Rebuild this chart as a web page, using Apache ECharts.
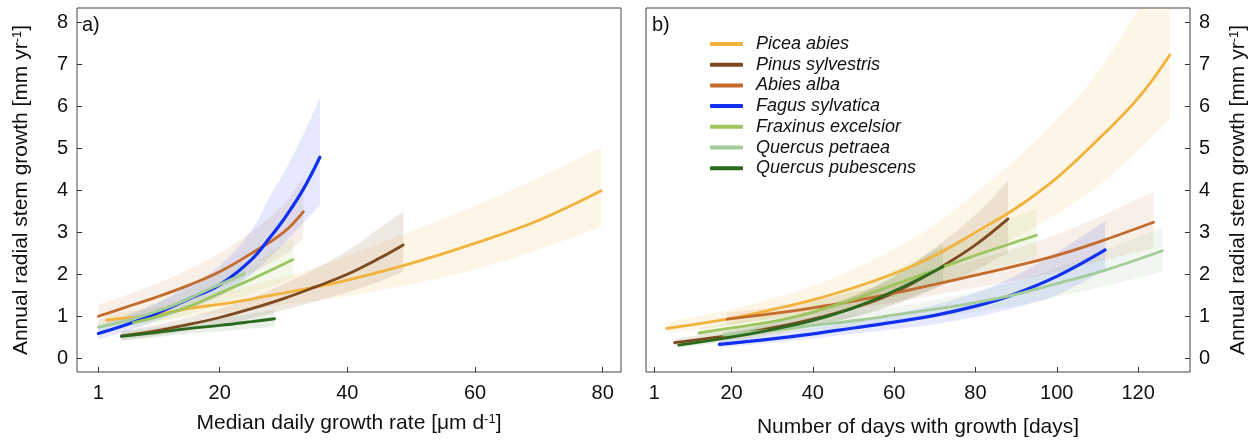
<!DOCTYPE html>
<html>
<head>
<meta charset="utf-8">
<title>Annual radial stem growth</title>
<script src="https://cdn.jsdelivr.net/npm/echarts@6/dist/echarts.min.js"></script>
<style>
  html, body { margin: 0; padding: 0; background: #fff; }
  #chart { width: 1258px; height: 443px; }
</style>
</head>
<body>
<div id="chart"></div>
<script>
// species, in legend order
var species = ['Picea abies', 'Pinus sylvestris', 'Abies alba', 'Fagus sylvatica',
  'Fraxinus excelsior', 'Quercus petraea', 'Quercus pubescens']

// tick labels
var rateTicks = [1, 20, 40, 60, 80]
var daysTicks = [1, 20, 40, 60, 80, 100, 120]
var growthTicks = [0, 1, 2, 3, 4, 5, 6, 7, 8]

// a) growth vs median daily growth rate: x, fitted growth, band low, band high
var piceaRateX = [2.3, 10, 15.3, 20, 25, 30.9, 37.7, 48.6, 59.6, 70, 79.75]
var piceaRateY = [0.91, 1.04, 1.19, 1.28, 1.41, 1.58, 1.78, 2.2, 2.72, 3.29, 3.99]
var piceaRateLo = [0.78, 0.88, 1.0, 1.07, 1.16, 1.3, 1.42, 1.72, 2.1, 2.6, 3.13]
var piceaRateHi = [1.05, 1.22, 1.42, 1.55, 1.74, 1.98, 2.3, 2.95, 3.6, 4.3, 5.04]

var pinusRateX = [4.6, 10, 15, 20, 25, 30, 35, 40, 45, 48.75]
var pinusRateY = [0.53, 0.65, 0.8, 0.97, 1.18, 1.42, 1.7, 2.0, 2.38, 2.7]
var pinusRateLo = [0.43, 0.53, 0.65, 0.79, 0.96, 1.14, 1.35, 1.57, 1.83, 2.06]
var pinusRateHi = [0.65, 0.79, 0.97, 1.18, 1.44, 1.76, 2.13, 2.56, 3.1, 3.5]

var abiesRateX = [1, 5, 10, 15, 20, 25, 30, 33.1]
var abiesRateY = [1.0, 1.2, 1.45, 1.73, 2.06, 2.5, 3.0, 3.49]
var abiesRateLo = [0.75, 0.93, 1.15, 1.4, 1.68, 2.03, 2.45, 2.86]
var abiesRateHi = [1.27, 1.48, 1.76, 2.1, 2.5, 3.02, 3.66, 4.3]

var fagusRateX = [1, 5, 10, 15, 20, 25, 28, 30, 33, 35.7]
var fagusRateY = [0.59, 0.78, 1.06, 1.4, 1.75, 2.35, 2.9, 3.3, 4.0, 4.79]
var fagusRateLo = [0.45, 0.63, 0.88, 1.17, 1.48, 2.0, 2.42, 2.72, 3.2, 3.65]
var fagusRateHi = [0.76, 0.98, 1.3, 1.72, 2.2, 3.05, 3.9, 4.4, 5.3, 6.2]

var fraxinusRateX = [6.5, 10, 15, 20, 25, 31.5]
var fraxinusRateY = [0.85, 0.98, 1.22, 1.55, 1.88, 2.35]
var fraxinusRateLo = [0.72, 0.83, 1.03, 1.3, 1.55, 1.9]
var fraxinusRateHi = [1.0, 1.15, 1.43, 1.83, 2.25, 2.88]

var petraeaRateX = [1, 6, 12.7, 18, 23.9]
var petraeaRateY = [0.74, 0.92, 1.26, 1.62, 2.02]
var petraeaRateLo = [0.6, 0.77, 1.06, 1.38, 1.74]
var petraeaRateHi = [0.9, 1.08, 1.47, 1.88, 2.32]

var pubescensRateX = [4.6, 10, 15.3, 20, 25, 28.6]
var pubescensRateY = [0.52, 0.61, 0.71, 0.78, 0.87, 0.94]
var pubescensRateLo = [0.42, 0.5, 0.58, 0.64, 0.71, 0.75]
var pubescensRateHi = [0.63, 0.73, 0.85, 0.95, 1.06, 1.17]

// b) growth vs number of days with growth
var piceaDaysX = [4, 20, 30, 40, 50, 60, 70, 80, 90, 100, 110, 120, 127.8]
var piceaDaysY = [0.71, 0.95, 1.16, 1.39, 1.68, 2.02, 2.45, 3.0, 3.58, 4.3, 5.2, 6.2, 7.23]
var piceaDaysLo = [0.6, 0.78, 0.95, 1.12, 1.36, 1.64, 1.98, 2.43, 2.88, 3.45, 4.1, 4.95, 5.72]
var piceaDaysHi = [0.86, 1.16, 1.42, 1.72, 2.12, 2.6, 3.18, 3.94, 4.75, 5.68, 6.8, 8.3, 9.5]

var pinusDaysX = [6, 20, 30, 40, 50, 60, 72, 80, 88]
var pinusDaysY = [0.37, 0.55, 0.72, 0.93, 1.2, 1.56, 2.2, 2.7, 3.32]
var pinusDaysLo = [0.3, 0.45, 0.59, 0.76, 0.98, 1.26, 1.74, 2.1, 2.52]
var pinusDaysHi = [0.46, 0.67, 0.88, 1.14, 1.48, 1.94, 2.78, 3.42, 4.21]

var abiesDaysX = [18.9, 30, 40, 50, 60, 70, 80, 90, 100, 110, 123.8]
var abiesDaysY = [0.93, 1.06, 1.2, 1.36, 1.55, 1.76, 1.98, 2.2, 2.45, 2.76, 3.24]
var abiesDaysLo = [0.8, 0.93, 1.05, 1.18, 1.34, 1.5, 1.68, 1.85, 2.05, 2.3, 2.62]
var abiesDaysHi = [1.08, 1.22, 1.38, 1.57, 1.8, 2.06, 2.34, 2.62, 2.95, 3.35, 3.97]

var fagusDaysX = [17, 30, 40, 50, 60, 70, 80, 88, 100, 111.9]
var fagusDaysY = [0.33, 0.46, 0.58, 0.72, 0.86, 1.02, 1.24, 1.47, 1.95, 2.58]
var fagusDaysLo = [0.26, 0.37, 0.47, 0.58, 0.69, 0.81, 0.98, 1.16, 1.5, 2.1]
var fagusDaysHi = [0.42, 0.57, 0.72, 0.88, 1.06, 1.27, 1.56, 1.88, 2.52, 3.27]

var fraxinusDaysX = [12, 20, 30, 40, 50, 60, 70, 80, 95]
var fraxinusDaysY = [0.6, 0.72, 0.87, 1.1, 1.4, 1.75, 2.1, 2.45, 2.93]
var fraxinusDaysLo = [0.5, 0.6, 0.73, 0.92, 1.16, 1.45, 1.74, 2.02, 2.4]
var fraxinusDaysHi = [0.72, 0.86, 1.04, 1.31, 1.68, 2.1, 2.55, 2.97, 3.56]

var petraeaDaysX = [18, 30, 40, 51.6, 60, 76, 88, 100, 112, 126]
var petraeaDaysY = [0.55, 0.67, 0.78, 0.91, 1.03, 1.26, 1.48, 1.78, 2.1, 2.56]
var petraeaDaysLo = [0.46, 0.57, 0.66, 0.77, 0.86, 1.05, 1.22, 1.46, 1.72, 2.06]
var petraeaDaysHi = [0.65, 0.79, 0.92, 1.08, 1.22, 1.5, 1.78, 2.15, 2.58, 3.12]

var pubescensDaysX = [7, 20, 30, 40, 50, 60, 72]
var pubescensDaysY = [0.31, 0.5, 0.68, 0.9, 1.2, 1.6, 2.18]
var pubescensDaysLo = [0.25, 0.41, 0.56, 0.74, 0.98, 1.3, 1.75]
var pubescensDaysHi = [0.38, 0.61, 0.83, 1.1, 1.47, 1.97, 2.72]

// colours: line, band
var lineColors = ['#f2b33d', '#7d4a1f', '#c26b2b', '#1030f2', '#9cc55e', '#a3cc9a', '#2b6a1e']
var bandColors = ['rgba(242,179,61,0.13)', 'rgba(125,74,31,0.12)', 'rgba(194,107,43,0.11)',
  'rgba(16,48,242,0.11)', 'rgba(156,197,94,0.12)', 'rgba(120,180,110,0.10)', 'rgba(43,106,30,0.10)']

var rateCurves = [
  [piceaRateX, piceaRateY, piceaRateLo, piceaRateHi],
  [pinusRateX, pinusRateY, pinusRateLo, pinusRateHi],
  [abiesRateX, abiesRateY, abiesRateLo, abiesRateHi],
  [fagusRateX, fagusRateY, fagusRateLo, fagusRateHi],
  [fraxinusRateX, fraxinusRateY, fraxinusRateLo, fraxinusRateHi],
  [petraeaRateX, petraeaRateY, petraeaRateLo, petraeaRateHi],
  [pubescensRateX, pubescensRateY, pubescensRateLo, pubescensRateHi]
]
var daysCurves = [
  [piceaDaysX, piceaDaysY, piceaDaysLo, piceaDaysHi],
  [pinusDaysX, pinusDaysY, pinusDaysLo, pinusDaysHi],
  [abiesDaysX, abiesDaysY, abiesDaysLo, abiesDaysHi],
  [fagusDaysX, fagusDaysY, fagusDaysLo, fagusDaysHi],
  [fraxinusDaysX, fraxinusDaysY, fraxinusDaysLo, fraxinusDaysHi],
  [petraeaDaysX, petraeaDaysY, petraeaDaysLo, petraeaDaysHi],
  [pubescensDaysX, pubescensDaysY, pubescensDaysLo, pubescensDaysHi]
]

var FONT = '"Liberation Sans", Arial, Helvetica, sans-serif'
var SMOOTH = 0.4

function pairs (xs, ys) {
  return xs.map(function (x, i) { return [x, ys[i]] })
}

// smooth path through pixel points (Catmull-Rom as cubic bezier)
function curveThrough (pts) {
  var d = ''
  for (var i = 0; i < pts.length - 1; i++) {
    var p0 = pts[i - 1] || pts[i]
    var p1 = pts[i]
    var p2 = pts[i + 1]
    var p3 = pts[i + 2] || p2
    var c1x = p1[0] + (p2[0] - p0[0]) / 6
    var c1y = p1[1] + (p2[1] - p0[1]) / 6
    var c2x = p2[0] - (p3[0] - p1[0]) / 6
    var c2y = p2[1] - (p3[1] - p1[1]) / 6
    d += ' C' + c1x + ',' + c1y + ' ' + c2x + ',' + c2y + ' ' + p2[0] + ',' + p2[1]
  }
  return d
}

var bandSeries = []
var lineSeries = []
function addCurves (curves, axisIndex) {
  curves.forEach(function (c, k) {
    var xs = c[0]
    var lo = c[2]
    var hi = c[3]
    // confidence band: one closed shape from the lower edge and the reversed upper edge
    bandSeries.push({
      type: 'custom', name: 'band' + axisIndex + '_' + k,
      xAxisIndex: axisIndex, yAxisIndex: axisIndex,
      data: xs.map(function (x, i) { return [x, lo[i], hi[i]] }),
      encode: { x: 0, y: [1, 2] },
      clip: true, silent: true, z: 1,
      renderItem: function (params, api) {
        if (params.dataIndex !== 0) return null
        var low = xs.map(function (x, i) { return api.coord([x, lo[i]]) })
        var high = xs.map(function (x, i) { return api.coord([x, hi[i]]) }).reverse()
        var d = 'M' + low[0][0] + ',' + low[0][1] + curveThrough(low) +
          ' L' + high[0][0] + ',' + high[0][1] + curveThrough(high) + ' Z'
        return {
          type: 'path',
          shape: { pathData: d },
          style: { fill: bandColors[k], stroke: null }
        }
      }
    })
    lineSeries.push({
      type: 'line', name: species[k], xAxisIndex: axisIndex, yAxisIndex: axisIndex,
      data: pairs(xs, c[1]), smooth: SMOOTH, symbol: 'none',
      itemStyle: { color: lineColors[k] },
      lineStyle: { color: lineColors[k], width: k === 3 ? 3.2 : 2.8, cap: 'round' },
      z: 3
    })
  })
}
addCurves(rateCurves, 0)
addCurves(daysCurves, 1)

var tickLabel = { fontFamily: FONT, fontSize: 20, color: '#111' }
var nameStyle = {
  fontFamily: FONT, fontSize: 21, color: '#111',
  rich: { s: { fontFamily: FONT, fontSize: 13, verticalAlign: 'top', color: '#111' } }
}

function xAxisOf (idx, min, max, ticks, name, gap) {
  return {
    type: 'value', gridIndex: idx, min: min, max: max, position: 'bottom',
    name: name, nameLocation: 'middle', nameGap: gap, nameTextStyle: nameStyle,
    axisLine: { show: false, onZero: false },
    axisTick: { show: true, inside: true, length: 5, customValues: ticks, lineStyle: { color: '#333' } },
    axisLabel: Object.assign({ customValues: ticks, margin: 11 }, tickLabel),
    splitLine: { show: false }
  }
}
function yAxisOf (idx, position, gap) {
  return {
    type: 'value', gridIndex: idx, min: -0.33, max: 8.35, position: position,
    name: '{a|Annual radial stem growth [mm yr}{s|-1}{a|]}', nameLocation: 'middle',
    nameGap: gap, nameRotate: 90, nameTextStyle: nameStyle,
    axisLine: { show: false, onZero: false },
    axisTick: { show: true, inside: true, length: 5, customValues: growthTicks, lineStyle: { color: '#333' } },
    axisLabel: Object.assign({ customValues: growthTicks, margin: 9 }, tickLabel),
    splitLine: { show: false }
  }
}

var chart = echarts.init(document.getElementById('chart'), null, { renderer: 'canvas' })
chart.setOption({
  animation: false,
  backgroundColor: '#fff',
  grid: [
    { left: 77, top: 8, width: 544, height: 364, show: true, borderColor: '#444', borderWidth: 1, backgroundColor: 'transparent' },
    { left: 646, top: 8, width: 544, height: 364, show: true, borderColor: '#444', borderWidth: 1, backgroundColor: 'transparent' }
  ],
  xAxis: [
    xAxisOf(0, -2.34, 82.86, rateTicks, '{a|Median daily growth rate [μm d}{s|-1}{a|]}', 41),
    xAxisOf(1, -1.04, 132.76, daysTicks, 'Number of days with growth [days]', 45)
  ],
  yAxis: [
    yAxisOf(0, 'left', 45),
    yAxisOf(1, 'right', 38)
  ],
  legend: {
    data: species,
    orient: 'vertical',
    left: 705,
    top: 30,
    itemWidth: 33,
    itemHeight: 4,
    itemGap: 2.7,
    icon: 'roundRect',
    selectedMode: false,
    textStyle: { fontFamily: FONT, fontSize: 18, fontStyle: 'italic', color: '#111', lineHeight: 18, padding: [0, 0, 0, 8] }
  },
  graphic: [
    { type: 'text', left: 82, top: 15, style: { text: 'a)', font: '20px ' + FONT, fill: '#111' } },
    { type: 'text', left: 652, top: 15, style: { text: 'b)', font: '20px ' + FONT, fill: '#111' } }
  ],
  series: bandSeries.concat(lineSeries)
})
</script>
</body>
</html>
